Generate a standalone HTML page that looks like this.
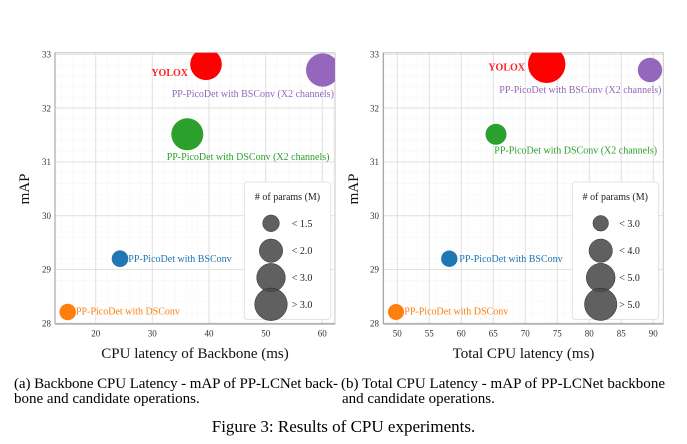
<!DOCTYPE html>
<html>
<head>
<meta charset="utf-8">
<style>
html,body{margin:0;padding:0;background:#fff;}
svg{display:block;}
text{font-family:"Liberation Serif","DejaVu Serif",serif;}
</style>
</head>
<body>
<svg width="687" height="444" viewBox="0 0 687 444" xmlns="http://www.w3.org/2000/svg">
<defs>
<clipPath id="cl"><rect x="55" y="52.7" width="280" height="271.3"/></clipPath>
<clipPath id="cr"><rect x="383.3" y="52.7" width="280" height="271.3"/></clipPath>
</defs>
<rect width="687" height="444" fill="#fff"/>

<!-- ============ LEFT PLOT ============ -->
<g stroke="#f7f7f7" stroke-width="0.6">
<path d="M61.7 52.7V324 M73 52.7V324 M84.3 52.7V324 M107 52.7V324 M118.3 52.7V324 M129.7 52.7V324 M141 52.7V324 M163.7 52.7V324 M175 52.7V324 M186.3 52.7V324 M197.7 52.7V324 M220.3 52.7V324 M231.7 52.7V324 M243 52.7V324 M254.3 52.7V324 M277 52.7V324 M288.3 52.7V324 M299.7 52.7V324 M311 52.7V324 M333.7 52.7V324"/>
<path d="M55 65.1H335 M55 75.8H335 M55 86.6H335 M55 97.4H335 M55 118.9H335 M55 129.6H335 M55 140.4H335 M55 151.2H335 M55 172.6H335 M55 183.4H335 M55 194.2H335 M55 204.9H335 M55 226.5H335 M55 237.2H335 M55 248H335 M55 258.7H335 M55 280.3H335 M55 291H335 M55 301.8H335 M55 312.5H335"/>
</g>
<g stroke="#e2e2e2" stroke-width="1.1">
<path d="M95.7 52.7V324 M152.3 52.7V324 M209 52.7V324 M265.7 52.7V324 M322.3 52.7V324"/>
<path d="M55 54.3H335 M55 108.1H335 M55 161.9H335 M55 215.7H335 M55 269.5H335"/>
</g>
<rect x="55" y="52.7" width="280" height="271.3" fill="none" stroke="#c8c8c8" stroke-width="1"/>
<line x1="55" y1="52.7" x2="55" y2="324" stroke="#999" stroke-width="1"/>
<line x1="55" y1="323.8" x2="335" y2="323.8" stroke="#b4b4b4" stroke-width="1.8"/>

<g clip-path="url(#cl)">
<circle cx="206" cy="64.3" r="15.8" fill="#ff0000"/>
<circle cx="322.7" cy="70" r="16.7" fill="#9467bd"/>
<circle cx="187.3" cy="134.3" r="16" fill="#2ca02c"/>
<circle cx="120" cy="258.7" r="8.3" fill="#1f77b4"/>
<circle cx="67.7" cy="312" r="8.3" fill="#ff7f0e"/>
</g>

<g font-size="10">
<text x="188" y="76" text-anchor="end" fill="#ff2020" font-weight="bold">YOLOX</text>
<text x="171.7" y="96.8" fill="#9467bd">PP-PicoDet with BSConv (X2 channels)</text>
<text x="166.7" y="160.2" fill="#2ca02c">PP-PicoDet with DSConv (X2 channels)</text>
<text x="128.3" y="261.8" fill="#1f77b4">PP-PicoDet with BSConv</text>
<text x="76" y="314.5" fill="#ff7f0e">PP-PicoDet with DSConv</text>
</g>

<g font-size="9" fill="#333" text-anchor="end">
<text x="51" y="57.5">33</text>
<text x="51" y="111.3">32</text>
<text x="51" y="165.1">31</text>
<text x="51" y="218.9">30</text>
<text x="51" y="272.7">29</text>
<text x="51" y="326.5">28</text>
</g>
<g font-size="9" fill="#333" text-anchor="middle">
<text x="95.7" y="336.3">20</text>
<text x="152.3" y="336.3">30</text>
<text x="209" y="336.3">40</text>
<text x="265.7" y="336.3">50</text>
<text x="322.3" y="336.3">60</text>
</g>
<text x="195" y="358" font-size="15" text-anchor="middle" fill="#111">CPU latency of Backbone (ms)</text>
<text transform="translate(29,189) rotate(-90)" font-size="15" text-anchor="middle" fill="#111">mAP</text>

<rect x="244.3" y="182" width="86.4" height="137.3" rx="3" fill="#fff" stroke="#dcdcdc" stroke-width="0.8"/>
<text x="287.5" y="200" font-size="10" text-anchor="middle" fill="#222">#&#160;of params (M)</text>
<g fill="#4a4a4a" fill-opacity="0.88" stroke="#2a2a2a" stroke-width="0.5">
<circle cx="271" cy="223.3" r="8.3"/>
<circle cx="271" cy="250.7" r="11.7"/>
<circle cx="271" cy="277.7" r="14.3"/>
<circle cx="271" cy="304.3" r="16.3"/>
</g>
<g font-size="10" fill="#222">
<text x="291.7" y="226.8">&lt; 1.5</text>
<text x="291.7" y="254.2">&lt; 2.0</text>
<text x="291.7" y="281.2">&lt; 3.0</text>
<text x="291.7" y="307.8">&gt; 3.0</text>
</g>

<!-- ============ RIGHT PLOT ============ -->
<g stroke="#f7f7f7" stroke-width="0.6">
<path d="M384.5 52.7V324 M390.9 52.7V324 M403.7 52.7V324 M410.1 52.7V324 M416.5 52.7V324 M422.9 52.7V324 M435.7 52.7V324 M442.1 52.7V324 M448.5 52.7V324 M454.9 52.7V324 M467.7 52.7V324 M474.1 52.7V324 M480.5 52.7V324 M486.9 52.7V324 M499.7 52.7V324 M506.1 52.7V324 M512.5 52.7V324 M518.9 52.7V324 M531.7 52.7V324 M538.1 52.7V324 M544.5 52.7V324 M550.9 52.7V324 M563.7 52.7V324 M570.1 52.7V324 M576.5 52.7V324 M582.9 52.7V324 M595.7 52.7V324 M602.1 52.7V324 M608.5 52.7V324 M614.9 52.7V324 M627.7 52.7V324 M634.1 52.7V324 M640.5 52.7V324 M646.9 52.7V324 M659.7 52.7V324"/>
<path d="M383.3 65.1H663.3 M383.3 75.8H663.3 M383.3 86.6H663.3 M383.3 97.4H663.3 M383.3 118.9H663.3 M383.3 129.6H663.3 M383.3 140.4H663.3 M383.3 151.2H663.3 M383.3 172.6H663.3 M383.3 183.4H663.3 M383.3 194.2H663.3 M383.3 204.9H663.3 M383.3 226.5H663.3 M383.3 237.2H663.3 M383.3 248H663.3 M383.3 258.7H663.3 M383.3 280.3H663.3 M383.3 291H663.3 M383.3 301.8H663.3 M383.3 312.5H663.3"/>
</g>
<g stroke="#e2e2e2" stroke-width="1.1">
<path d="M397.3 52.7V324 M429.3 52.7V324 M461.3 52.7V324 M493.3 52.7V324 M525.3 52.7V324 M557.3 52.7V324 M589.3 52.7V324 M621.3 52.7V324 M653.3 52.7V324"/>
<path d="M383.3 54.3H663.3 M383.3 108.1H663.3 M383.3 161.9H663.3 M383.3 215.7H663.3 M383.3 269.5H663.3"/>
</g>
<rect x="383.3" y="52.7" width="280" height="271.3" fill="none" stroke="#c8c8c8" stroke-width="1"/>
<line x1="383.3" y1="52.7" x2="383.3" y2="324" stroke="#999" stroke-width="1"/>
<line x1="383.3" y1="323.8" x2="663.3" y2="323.8" stroke="#b4b4b4" stroke-width="1.8"/>

<g clip-path="url(#cr)">
<circle cx="546.7" cy="64.3" r="18.7" fill="#ff0000"/>
<circle cx="650" cy="70" r="12.2" fill="#9467bd"/>
<circle cx="496" cy="134.3" r="10.5" fill="#2ca02c"/>
<circle cx="449.3" cy="258.7" r="8.2" fill="#1f77b4"/>
<circle cx="396" cy="312" r="8" fill="#ff7f0e"/>
</g>

<g font-size="10">
<text x="525" y="70.5" text-anchor="end" fill="#ff2020" font-weight="bold">YOLOX</text>
<text x="499.3" y="92.8" fill="#9467bd">PP-PicoDet with BSConv (X2 channels)</text>
<text x="494.3" y="153.5" fill="#2ca02c">PP-PicoDet with DSConv (X2 channels)</text>
<text x="459.3" y="261.8" fill="#1f77b4">PP-PicoDet with BSConv</text>
<text x="404.3" y="314.5" fill="#ff7f0e">PP-PicoDet with DSConv</text>
</g>

<g font-size="9" fill="#333" text-anchor="end">
<text x="379" y="57.5">33</text>
<text x="379" y="111.3">32</text>
<text x="379" y="165.1">31</text>
<text x="379" y="218.9">30</text>
<text x="379" y="272.7">29</text>
<text x="379" y="326.5">28</text>
</g>
<g font-size="9" fill="#333" text-anchor="middle">
<text x="397.3" y="336.3">50</text>
<text x="429.3" y="336.3">55</text>
<text x="461.3" y="336.3">60</text>
<text x="493.3" y="336.3">65</text>
<text x="525.3" y="336.3">70</text>
<text x="557.3" y="336.3">75</text>
<text x="589.3" y="336.3">80</text>
<text x="621.3" y="336.3">85</text>
<text x="653.3" y="336.3">90</text>
</g>
<text x="523.5" y="358" font-size="15" text-anchor="middle" fill="#111">Total CPU latency (ms)</text>
<text transform="translate(358,189) rotate(-90)" font-size="15" text-anchor="middle" fill="#111">mAP</text>

<rect x="572.3" y="182" width="86" height="137.3" rx="3" fill="#fff" stroke="#dcdcdc" stroke-width="0.8"/>
<text x="615.3" y="200" font-size="10" text-anchor="middle" fill="#222">#&#160;of params (M)</text>
<g fill="#4a4a4a" fill-opacity="0.88" stroke="#2a2a2a" stroke-width="0.5">
<circle cx="600.7" cy="223.3" r="7.8"/>
<circle cx="600.7" cy="250.7" r="11.7"/>
<circle cx="600.7" cy="277.7" r="14.4"/>
<circle cx="600.7" cy="304.3" r="16.2"/>
</g>
<g font-size="10" fill="#222">
<text x="619.3" y="226.8">&lt; 3.0</text>
<text x="619.3" y="254.2">&lt; 4.0</text>
<text x="619.3" y="281.2">&lt; 5.0</text>
<text x="619.3" y="307.8">&gt; 5.0</text>
</g>

<!-- ============ CAPTIONS ============ -->
<g font-size="15" fill="#000">
<text x="14" y="388" textLength="324" lengthAdjust="spacing">(a) Backbone CPU Latency - mAP of PP-LCNet back-</text>
<text x="14" y="403">bone and candidate operations.</text>
<text x="341" y="388" textLength="324" lengthAdjust="spacing">(b) Total CPU Latency - mAP of PP-LCNet backbone</text>
<text x="342" y="403">and candidate operations.</text>
</g>
<text x="343.5" y="432" font-size="17" text-anchor="middle" fill="#000">Figure 3: Results of CPU experiments.</text>
</svg>
</body>
</html>
